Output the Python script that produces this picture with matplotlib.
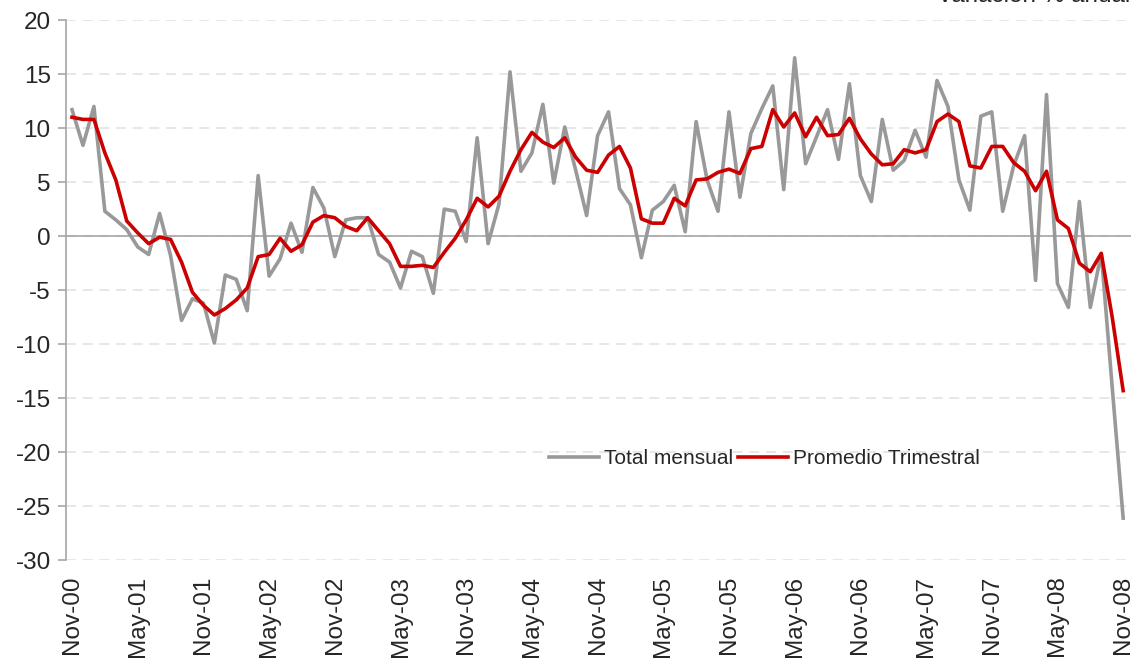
import numpy as np
import matplotlib
matplotlib.use("Agg")
import matplotlib.pyplot as plt

plt.rcParams['font.family'] = ['Liberation Sans', 'DejaVu Sans']
plt.rcParams['axes.unicode_minus'] = False

# Variación % anual, mensual desde Nov-00 hasta Nov-08
total_mensual = [
    11.7, 8.4, 12.0, 2.3, 1.5, 0.6, -1.0, -1.7, 2.1, -1.8,
    -7.8, -5.8, -6.2, -9.9, -3.6, -4.0, -6.9, 5.6, -3.7, -2.1,
    1.2, -1.5, 4.5, 2.6, -1.9, 1.5, 1.7, 1.7, -1.7, -2.4,
    -4.8, -1.4, -1.9, -5.3, 2.5, 2.3, -0.5, 9.1, -0.7, 3.0,
    15.2, 6.0, 7.7, 12.2, 4.9, 10.1, 6.1, 1.9, 9.3, 11.5,
    4.4, 2.9, -2.0, 2.4, 3.2, 4.7, 0.4, 10.6, 5.2, 2.3,
    11.5, 3.6, 9.5, 11.8, 13.9, 4.3, 16.5, 6.7, 9.2, 11.7,
    7.1, 14.1, 5.6, 3.2, 10.8, 6.1, 7.0, 9.8, 7.3, 14.4,
    12.0, 5.2, 2.4, 11.1, 11.5, 2.3, 6.5, 9.3, -4.1, 13.1,
    -4.4, -6.6, 3.2, -6.6, -1.6, -14.0, -26.1,
]

promedio_trimestral = [
    11.0, 10.8, 10.8, 7.7, 5.2, 1.4, 0.3, -0.7, -0.1, -0.3,
    -2.4, -5.2, -6.4, -7.3, -6.7, -5.9, -4.8, -1.9, -1.7, -0.2,
    -1.4, -0.8, 1.3, 1.9, 1.7, 0.9, 0.5, 1.7, 0.5, -0.7,
    -2.8, -2.8, -2.7, -2.9, -1.5, -0.2, 1.5, 3.5, 2.7, 3.7,
    6.0, 8.0, 9.6, 8.7, 8.2, 9.1, 7.3, 6.1, 5.9, 7.5,
    8.3, 6.3, 1.6, 1.2, 1.2, 3.5, 2.8, 5.2, 5.3, 5.9,
    6.2, 5.8, 8.1, 8.3, 11.7, 10.1, 11.4, 9.2, 11.0, 9.3,
    9.4, 10.9, 9.0, 7.6, 6.6, 6.7, 8.0, 7.7, 8.0, 10.6,
    11.3, 10.6, 6.5, 6.3, 8.3, 8.3, 6.8, 6.0, 4.2, 6.0,
    1.5, 0.7, -2.5, -3.3, -1.6, -7.5, -14.3,
]

tick_labels = ['Nov-00', 'May-01', 'Nov-01', 'May-02', 'Nov-02', 'May-03',
               'Nov-03', 'May-04', 'Nov-04', 'May-05', 'Nov-05', 'May-06',
               'Nov-06', 'May-07', 'Nov-07', 'May-08', 'Nov-08']

x = np.arange(len(total_mensual))

fig = plt.figure(figsize=(11.34, 6.67), dpi=100)
ax = fig.add_axes([0.0582, 0.160, 0.939, 0.810])

ax.plot(x, total_mensual, color='#999999', lw=2.6, label='Total mensual',
        solid_joinstyle='round', zorder=3)
ax.plot(x, promedio_trimestral, color='#cc0000', lw=2.6, label='Promedio Trimestral',
        solid_joinstyle='round', zorder=4)

ax.set_xlim(-0.55, 96.7)
ax.set_ylim(-30, 20)
ax.set_yticks(np.arange(-30, 21, 5))
ax.yaxis.grid(True, color='#e3e3e3', lw=1.2, ls=(0, (6, 4)))
ax.set_axisbelow(True)
ax.axhline(0, color='#a6a6a6', lw=1.2, zorder=2)

for s in ['top', 'right', 'bottom']:
    ax.spines[s].set_visible(False)
ax.spines['left'].set_color('#a6a6a6')
ax.spines['left'].set_linewidth(1.2)

ax.set_xticks(x[::6])
ax.set_xticklabels(tick_labels, rotation=90, fontsize=17.5, color='#262626')
ax.tick_params(axis='x', length=0, pad=11)
ax.tick_params(axis='y', length=6, width=1.2, color='#a6a6a6', labelsize=17.5,
               labelcolor='#262626', pad=5)

ax.legend(loc='center', bbox_to_anchor=(0.674, 0.312), bbox_transform=fig.transFigure,
          ncol=2, frameon=False, fontsize=15, handlelength=2.4, handletextpad=0.25,
          columnspacing=0.2, labelcolor='#262626')

fig.text(0.997, 1 - 2 / 667, 'Variación % anual', ha='right', va='baseline',
         fontsize=17.5, color='#262626')

fig.savefig('out.png', dpi=100)
